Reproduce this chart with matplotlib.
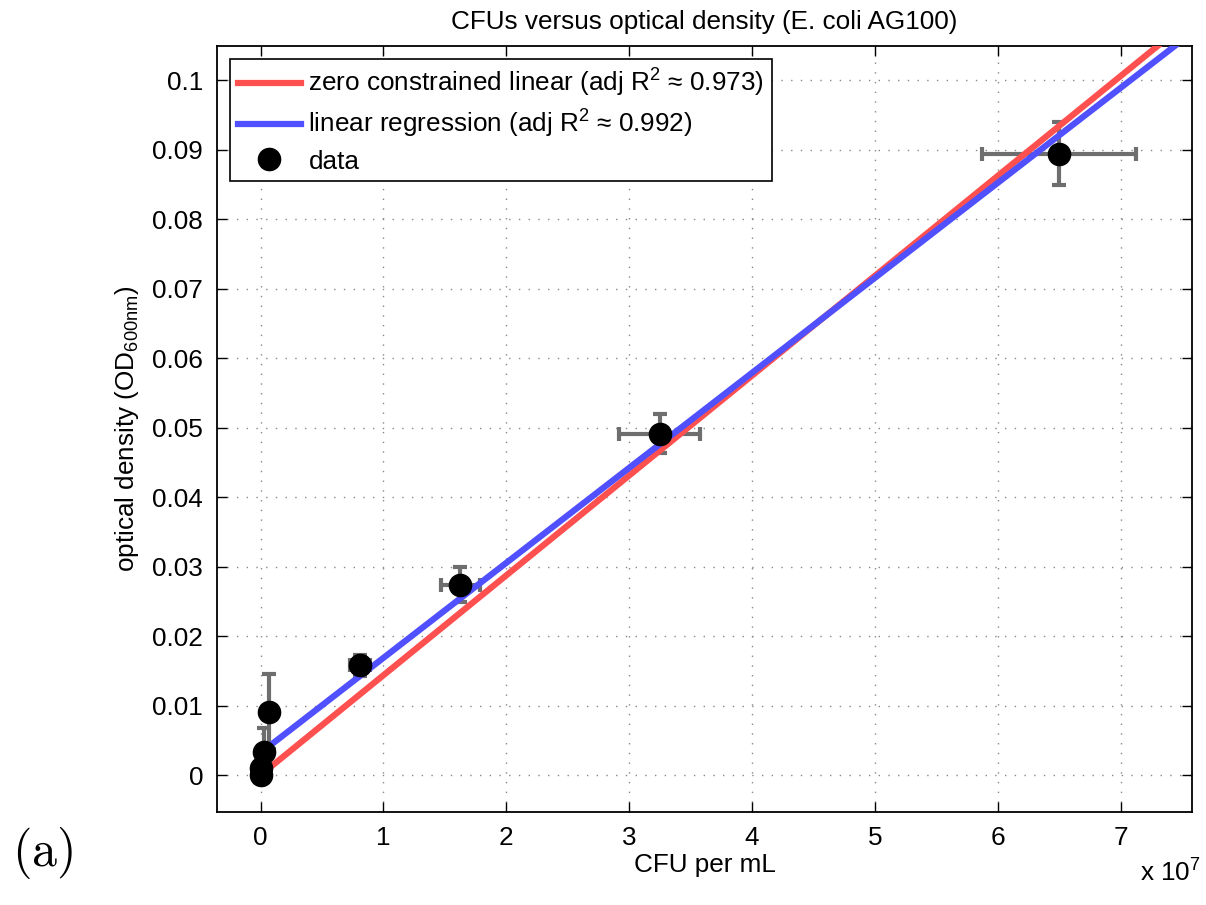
import numpy as np
import matplotlib
matplotlib.use("Agg")
import matplotlib.pyplot as plt

# data (CFU per mL in units of 1e7)
cfu = [0.0, 0.0, 0.03, 0.07, 0.81, 1.625, 3.25, 6.5]
od = [0.0, 0.0010, 0.0034, 0.0091, 0.0158, 0.0274, 0.0491, 0.0894]
cfu_err = [0.0, 0.0, 0.0, 0.0, 0.08, 0.16, 0.33, 0.625]
od_err = [0.0, 0.0, 0.0034, 0.0054, 0.0015, 0.0025, 0.0028, 0.0045]

# fitted lines
zero_slope = 0.01437
lin_slope = 0.01367
lin_icpt = 0.0032

plt.rcParams['font.family'] = ['Liberation Sans', 'DejaVu Sans']
plt.rcParams['mathtext.fontset'] = 'custom'
plt.rcParams['mathtext.rm'] = 'Liberation Sans'
plt.rcParams['mathtext.it'] = 'Liberation Sans'

fs = 18.8

fig = plt.figure(figsize=(12.06, 9.05), dpi=100)
ax = fig.add_axes([217 / 1206, 1 - 812 / 905, (1192 - 217) / 1206, (812 - 46) / 905])

xs = np.array([0, 8])
ax.plot(xs, zero_slope * xs, color='#ff5050', lw=4.5, zorder=3,
        label='zero constrained linear (adj R$^2$ \u2248 0.973)')
ax.plot(xs, lin_icpt + lin_slope * xs, color='#5050ff', lw=4.5, zorder=3,
        label='linear regression (adj R$^2$ \u2248 0.992)')
ax.errorbar(cfu, od, xerr=cfu_err, yerr=od_err, fmt='none', ecolor='#6e6e6e',
            elinewidth=3, capsize=5, capthick=3, zorder=2)
ax.plot(cfu, od, 'o', color='black', ms=16, zorder=4, label='data')

ax.set_xlim(-0.354, 7.58)
ax.set_ylim(-0.0053, 0.1049)
ax.set_xticks(range(0, 8))
ax.set_yticks(np.arange(0, 0.101, 0.01))
ax.set_yticklabels(['0'] + ['%g' % v for v in np.arange(0.01, 0.101, 0.01)])
ax.tick_params(direction='in', length=7, width=1, labelsize=fs, top=True, right=True, pad=10)
ax.grid(True, linestyle=(0, (1, 6)), color='#888888', lw=1.0)
for s in ax.spines.values():
    s.set_linewidth(1.3)

ax.set_title('CFUs versus optical density (E. coli AG100)', fontsize=fs, pad=12)
ax.set_xlabel('CFU per mL', fontsize=fs, labelpad=2)
ax.set_ylabel(r'optical density (OD$_{\mathrm{600nm}}$)', fontsize=fs, labelpad=8)

fig.text(1140 / 1206, 1 - 882 / 905, r'x 10$^7$', fontsize=fs, ha='left', va='baseline')
fig.text(12 / 1206, 1 - 866 / 905, r'$\mathrm{(a)}$', fontsize=36, ha='left', va='baseline',
         math_fontfamily='cm')

leg = ax.legend(loc='upper left', fontsize=fs, frameon=True, fancybox=False,
                edgecolor='black', framealpha=1, handlelength=2.4, borderaxespad=0.5,
                labelspacing=0.35, handletextpad=0.3, borderpad=0.3)
leg.get_frame().set_linewidth(1.2)

fig.savefig('out.png', dpi=100)
